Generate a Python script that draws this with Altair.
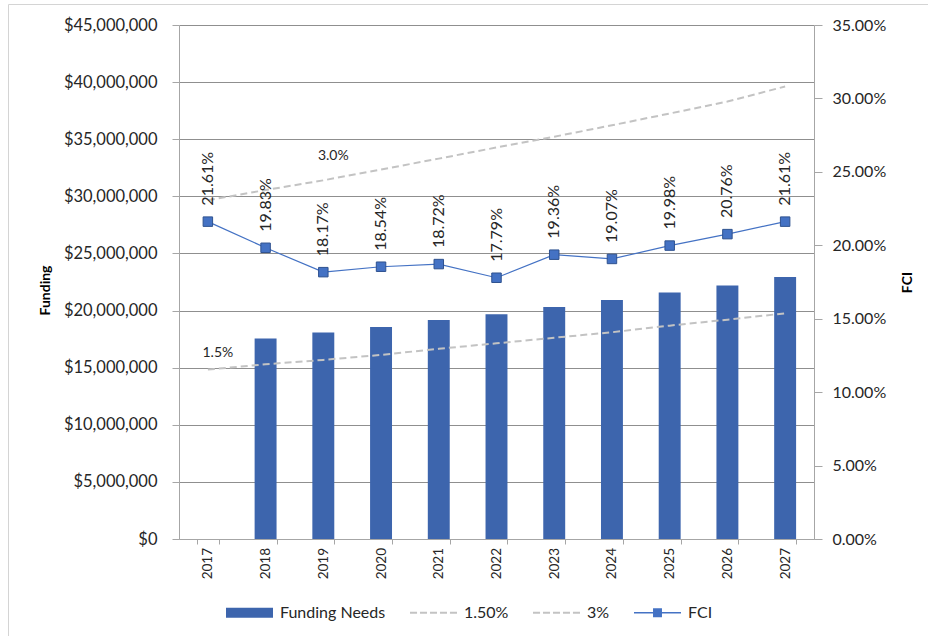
import altair as alt
import pandas as pd

# ---- data -------------------------------------------------------------
years = ["2017", "2018", "2019", "2020", "2021", "2022",
         "2023", "2024", "2025", "2026", "2027"]

# annual funding needs ($); no need reported for 2017
funding_needs = [None, 17.55e6, 18.07e6, 18.56e6, 19.18e6, 19.67e6,
                 20.32e6, 20.93e6, 21.57e6, 22.19e6, 22.94e6]

# funding reference lines at 1.5% and 3% reinvestment rates ($)
rate_15 = [14.83e6, 15.30e6, 15.68e6, 16.12e6, 16.65e6, 17.13e6,
           17.62e6, 18.10e6, 18.68e6, 19.20e6, 19.76e6]
rate_30 = [29.66e6, 30.55e6, 31.40e6, 32.35e6, 33.30e6, 34.28e6,
           35.22e6, 36.22e6, 37.25e6, 38.30e6, 39.62e6]

# facility condition index
fci = [0.2161, 0.1983, 0.1817, 0.1854, 0.1872, 0.1779,
       0.1936, 0.1907, 0.1998, 0.2076, 0.2161]

# in-chart labels for the two reference lines
rate_label_text = ["3.0%", "1.5%"]
rate_label_year = ["2019", "2017"]
rate_label_value = [33.5e6, 16.25e6]

legend_series = ["Funding Needs", "1.50%", "3%", "FCI"]

# ---- tables -----------------------------------------------------------
bars_df = pd.DataFrame({"year": years, "funding": funding_needs}).dropna()
rates_df = pd.concat([
    pd.DataFrame({"year": years, "value": rate_15, "series": "1.50%"}),
    pd.DataFrame({"year": years, "value": rate_30, "series": "3%"}),
])
fci_df = pd.DataFrame({"year": years, "fci": fci})
rate_labels_df = pd.DataFrame({"year": rate_label_year, "value": rate_label_value,
                               "text": rate_label_text})
legend_df = pd.DataFrame({"series": legend_series})

# ---- styling ----------------------------------------------------------
FONT = "Lato"
TEXT = "#262626"
GRID = "#8f8f8f"
AXIS = "#a6a6a6"
BAR = "#3d65ad"
LINE = "#4472c4"
DASH = "#c3c3c3"

x_scale = alt.Scale(domain=years, paddingInner=0.62, paddingOuter=0.31)
left_scale = alt.Scale(domain=[0, 45e6], nice=False, zero=True)
right_scale = alt.Scale(domain=[0, 0.35], nice=False, zero=True)

x_axis = alt.Axis(title=None, labelAngle=270, tickBand="extent", tickSize=5,
                  labelPadding=3.5, labelFont=FONT, labelFontSize=13.5,
                  labelColor=TEXT, domainColor=AXIS, tickColor=AXIS, grid=False)

left_axis = alt.Axis(title="Funding", format="$,.0f", tickCount=9, grid=True,
                     gridColor=GRID, gridWidth=1, domainColor=AXIS, tickColor=AXIS,
                     tickSize=7, labelPadding=15, labelFont=FONT, labelFontSize=16.5,
                     labelColor=TEXT, titleFont=FONT, titleFontSize=14,
                     titleFontWeight="bold", titleColor="#000000", titleAngle=270,
                     titleX=-134, titleY=265, titleAlign="center",
                     titleBaseline="middle")

right_axis = alt.Axis(title="FCI", orient="right", format=".2%", tickCount=7,
                      grid=False, domainColor=AXIS, tickColor=AXIS, tickSize=8,
                      labelPadding=10, labelFont=FONT, labelFontSize=16,
                      labelColor=TEXT, titleFont=FONT, titleFontSize=14,
                      titleFontWeight="bold", titleColor="#000000", titleAngle=270,
                      titleX=93.5, titleY=257, titleAlign="center",
                      titleBaseline="middle")

# ---- funding side (left axis) -----------------------------------------
bars = alt.Chart(bars_df).mark_bar(color=BAR).encode(
    x=alt.X("year:N", scale=x_scale, axis=x_axis, sort=years),
    y=alt.Y("funding:Q", scale=left_scale, axis=left_axis),
)

rate_lines = alt.Chart(rates_df).mark_line(
    color=DASH, strokeWidth=2, strokeDash=[7, 4]
).encode(
    x=alt.X("year:N", scale=x_scale, sort=years),
    y=alt.Y("value:Q", scale=left_scale),
    detail="series:N",
)

rate_labels = alt.Chart(rate_labels_df).mark_text(
    font=FONT, fontSize=14, color=TEXT, dx=10, align="center", baseline="middle"
).encode(
    x=alt.X("year:N", scale=x_scale, sort=years),
    y=alt.Y("value:Q", scale=left_scale),
    text="text:N",
)

funding_side = alt.layer(bars, rate_lines, rate_labels)

# ---- FCI side (right axis) --------------------------------------------
fci_base = alt.Chart(fci_df).encode(
    x=alt.X("year:N", scale=x_scale, sort=years),
    y=alt.Y("fci:Q", scale=right_scale, axis=right_axis),
)
fci_line = fci_base.mark_line(color=LINE, strokeWidth=1.2)
fci_points = fci_base.mark_point(shape="square", size=90, filled=True,
                                 fill=LINE, stroke="#2f528f", strokeWidth=1,
                                 opacity=1)
fci_labels = fci_base.mark_text(
    font=FONT, fontSize=16, color=TEXT, angle=270, align="left",
    baseline="middle", dx=16
).encode(text=alt.Text("fci:Q", format=".2%"))

fci_side = alt.layer(fci_line, fci_points, fci_labels)

# ---- legend: one entry per series, drawn with custom symbol paths -----
dashes = ("M-1,-0.043H-0.7V0.043H-1Z M-0.575,-0.043H-0.275V0.043H-0.575Z "
          "M-0.15,-0.043H0.15V0.043H-0.15Z M0.275,-0.043H0.575V0.043H0.275Z "
          "M0.7,-0.043H1V0.043H0.7Z")
legend_paths = [
    "M-1,-0.21H1V0.21H-1Z",                                   # bar swatch
    dashes,                                                   # 1.50% line
    dashes,                                                   # 3% line
    "M-1,-0.03H1V0.03H-1Z M-0.19,-0.19H0.19V0.19H-0.19Z",     # FCI line + marker
]

# zero-size points: they only feed the legend
legend_layer = alt.Chart(legend_df).mark_point(
    filled=True, size=0, opacity=1
).encode(
    color=alt.Color(
        "series:N",
        scale=alt.Scale(domain=legend_series,
                        range=[BAR, DASH, DASH, LINE]),
        legend=alt.Legend(
            orient="none", legendX=47, legendY=564, direction="horizontal",
            columns=4, title=None, symbolSize=2209, symbolStrokeWidth=0,
            symbolOpacity=1, labelFont=FONT, labelFontSize=16,
            labelColor=TEXT, labelOffset=7, columnPadding=24, padding=0,
        ),
    ),
    shape=alt.Shape(
        "series:N",
        scale=alt.Scale(domain=legend_series, range=legend_paths),
    ),
)

# light frame around the whole figure
frame = alt.Chart(alt.Data(values=[{}])).mark_rect(
    fillOpacity=0, stroke="#d4d4d4", strokeWidth=1
).encode(
    x=alt.value(-170.5), x2=alt.value(760), y=alt.value(-20.5), y2=alt.value(640)
)

chart = alt.layer(frame, funding_side, fci_side, legend_layer).resolve_scale(
    y="independent"
).properties(
    width=635,
    height=514,
    autosize=alt.AutoSizeParams(type="none"),
    padding={"left": 179, "top": 25, "right": 114, "bottom": 97},
    background="#ffffff",
).configure_view(stroke=None)

chart.save("out.html", embed_options={"renderer": "svg", "actions": False})
